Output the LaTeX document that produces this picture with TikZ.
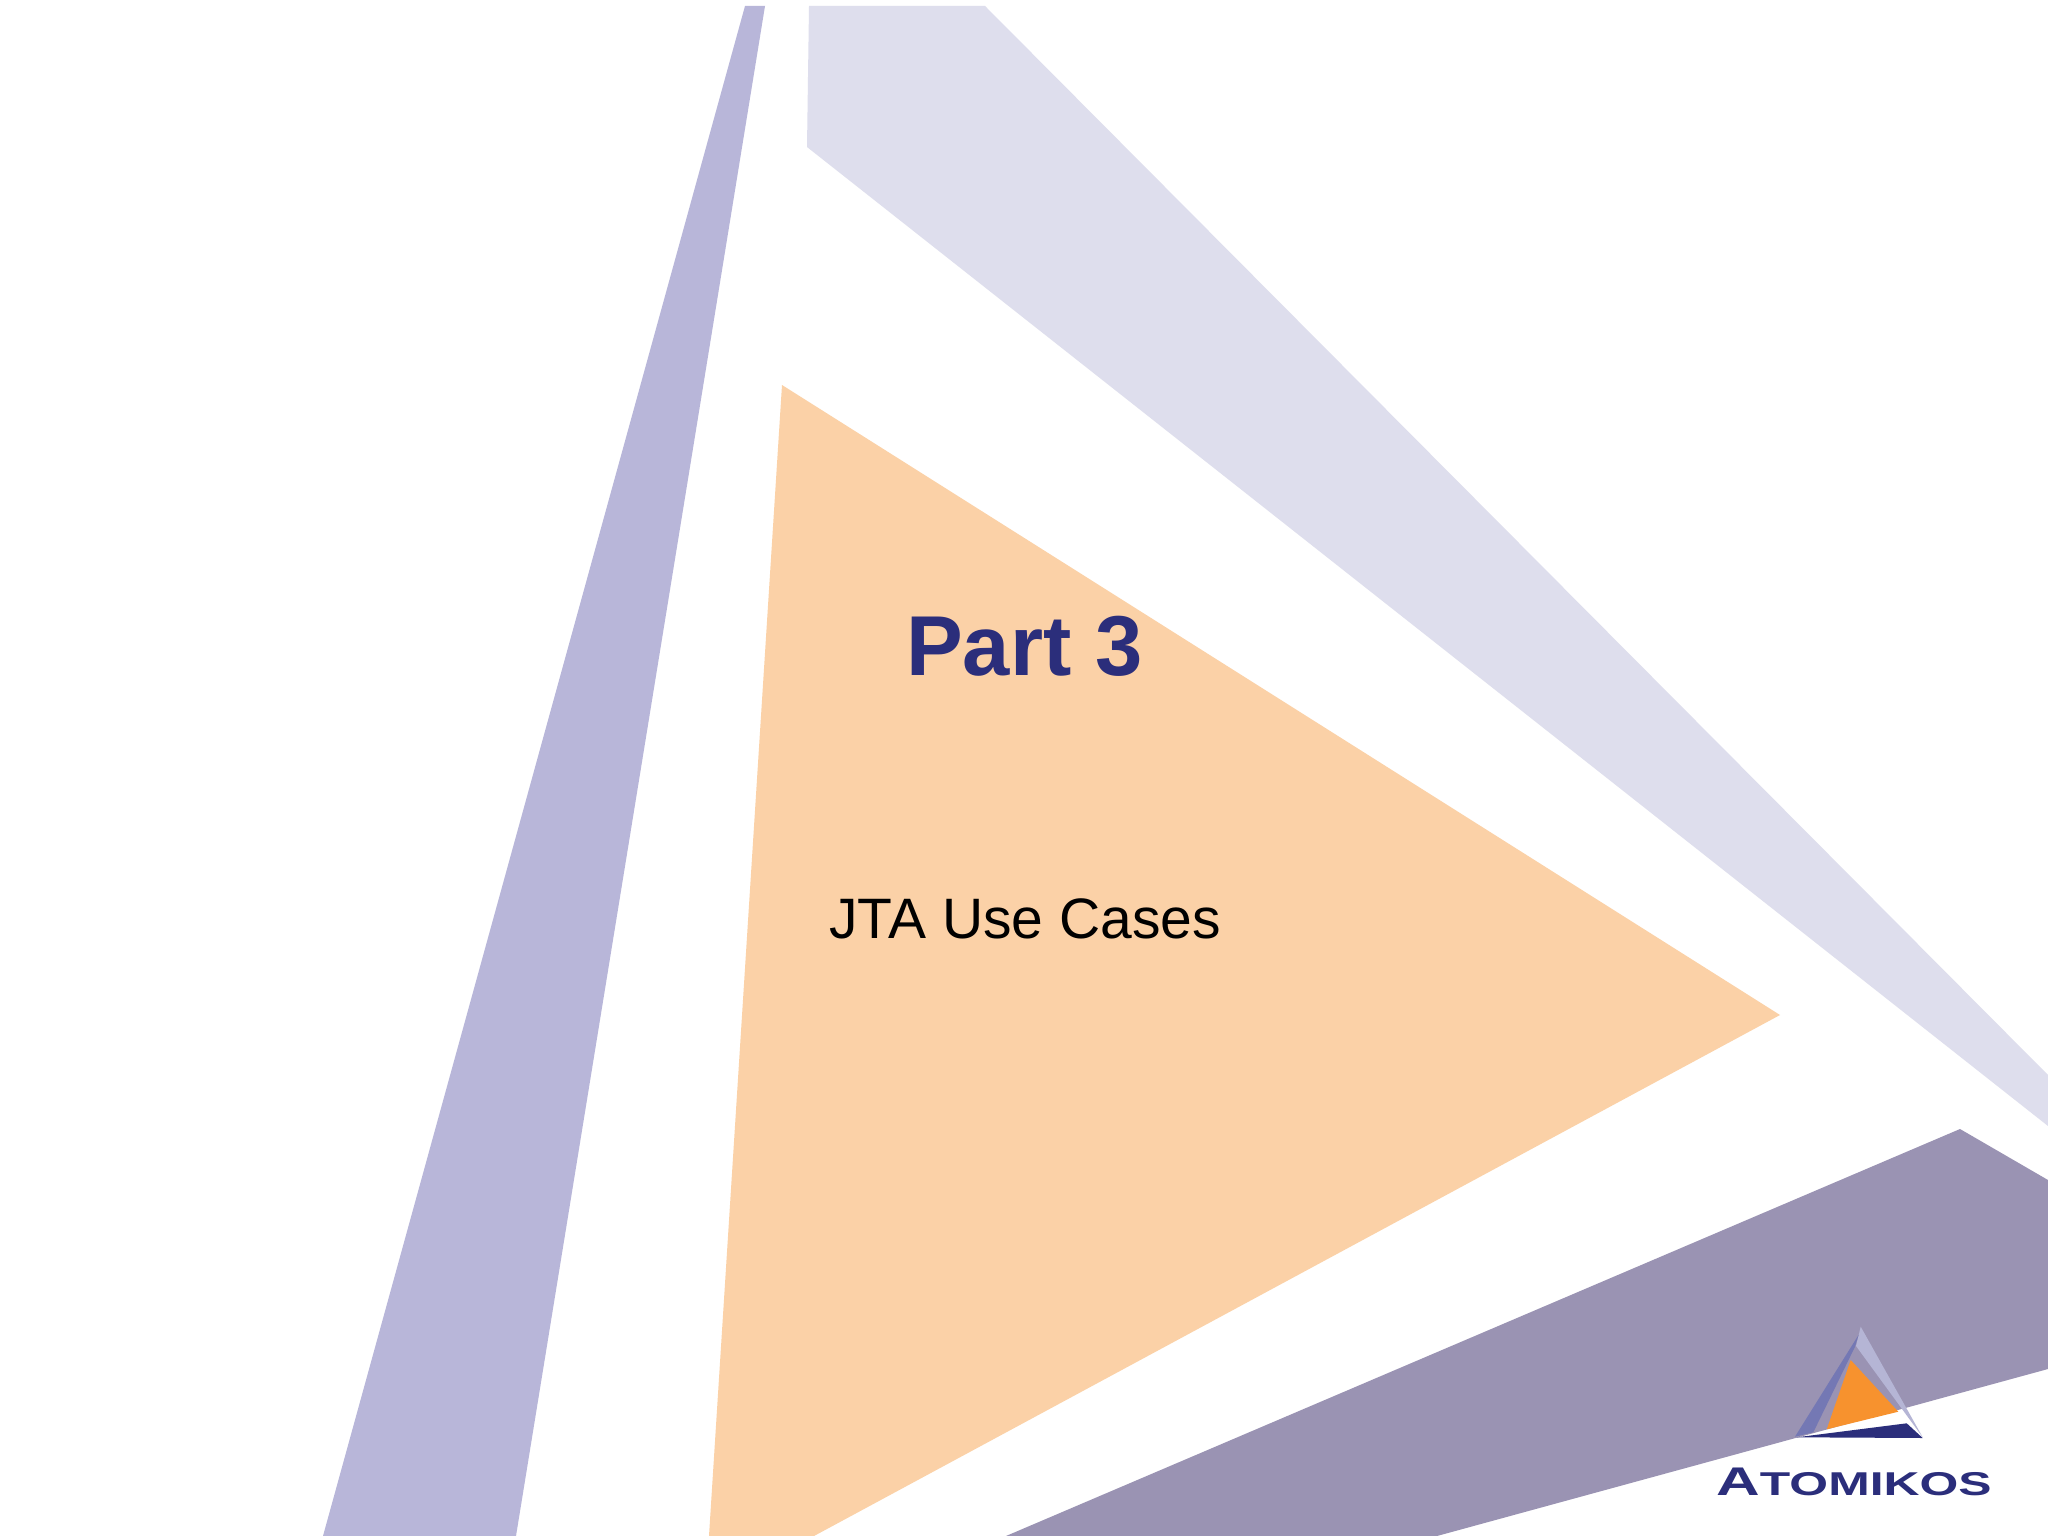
\documentclass[tikz,border=0pt]{standalone}
\usepackage{fontspec}
\setmainfont{Liberation Sans}

\definecolor{stripblue}{HTML}{B8B6D9}
\definecolor{paleblue}{HTML}{DEDEED}
\definecolor{softorange}{HTML}{FBD1A7}
\definecolor{duskblue}{HTML}{9A93B3}
\definecolor{navy}{HTML}{2B2E7B}
\definecolor{logoorange}{HTML}{F7922E}
\definecolor{logomid}{HTML}{7478B4}
\definecolor{logopale}{HTML}{B5B5D5}

\tikzset{
	panel/.style={fill=#1, draw=none},
	titletext/.style={anchor=base west, inner sep=0pt, text=navy, font=\fontsize{85}{90}\selectfont\bfseries},
	subtext/.style={anchor=base west, inner sep=0pt, text=black, font=\fontsize{57}{60}\selectfont},
	logotext/.style={anchor=base west, inner sep=0pt, text=navy, xscale=1.51, font=\bfseries}
}

\begin{document}
\begin{tikzpicture}[x=1pt,y=-1pt]
	\useasboundingbox (0,0) rectangle (2048,1536);

	\fill [panel=white] (0,0) rectangle (2048,1536);
	\fill [panel=stripblue] (745,6) -- (765,6) -- (516,1536) -- (323,1536) -- cycle;
	\fill [panel=paleblue] (809,6) -- (985,6) -- (2048,1075) -- (2048,1126) -- (807,147) -- cycle;
	\fill [panel=softorange] (782,385) -- (1780,1015) -- (814,1536) -- (709,1536) -- cycle;
	\fill [panel=duskblue] (1960,1129) -- (2048,1180) -- (2048,1369) -- (1437,1536) -- (1006,1536) -- cycle;

	% logo
	\fill [panel=logopale] (1860.7,1326.7) -- (1922.7,1437.3) -- (1904,1411.7) -- (1856,1346) -- cycle;
	\fill [panel=logomid] (1858.5,1335) -- (1795,1436.7) -- (1813.3,1432.3) -- (1855,1346.7) -- cycle;
	\fill [panel=logoorange] (1850.7,1360) -- (1898.3,1411.7) -- (1826.7,1429.3) -- cycle;
	\fill [panel=navy] (1796.7,1437.3) -- (1906.7,1423.3) -- (1922.7,1438) -- cycle;

	\node [titletext] (title) at (906,675) {Part 3};
	\node [subtext] (subtitle) at (829,938) {JTA Use Cases};
	\node [logotext] (brand) at (1716,1495) {\fontsize{40}{44}\selectfont A\fontsize{33}{36}\selectfont TOMIKOS};
\end{tikzpicture}
\end{document}
